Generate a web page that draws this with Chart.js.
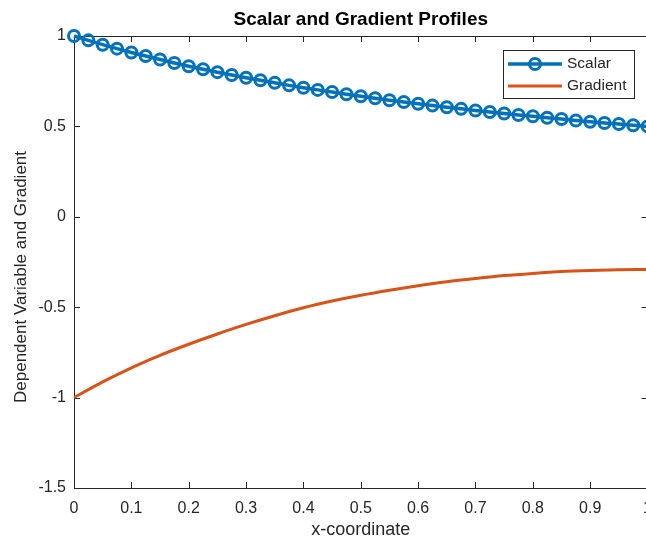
<!DOCTYPE html>
<html>
<head>
<meta charset="utf-8">
<title>Scalar and Gradient Profiles</title>
<script src="https://cdn.jsdelivr.net/npm/chart.js@4/dist/chart.umd.min.js"></script>
<style>
    html, body { margin: 0; padding: 0; background: #fff; }
    #wrap { width: 646px; height: 539px; overflow: hidden; position: relative; }
    #chart { display: block; }
</style>
</head>
<body>
<!-- canvas is a bit wider than the window: the right edge of the axes falls just outside, as in the original -->
<div id="wrap"><canvas id="chart" width="663" height="539"></canvas></div>
<script>
// x positions of the scalar samples (one marker per sample)
const scalarX = [0, 0.025, 0.05, 0.075, 0.1, 0.125, 0.15, 0.175, 0.2, 0.225,
    0.25, 0.275, 0.3, 0.325, 0.35, 0.375, 0.4, 0.425, 0.45, 0.475,
    0.5, 0.525, 0.55, 0.575, 0.6, 0.625, 0.65, 0.675, 0.7, 0.725,
    0.75, 0.775, 0.8, 0.825, 0.85, 0.875, 0.9, 0.925, 0.95, 0.975, 1];
const scalarY = [1.000, 0.976, 0.952, 0.930, 0.909, 0.889, 0.870, 0.851, 0.833, 0.816,
    0.800, 0.784, 0.769, 0.755, 0.741, 0.727, 0.714, 0.702, 0.690, 0.678,
    0.667, 0.656, 0.645, 0.635, 0.625, 0.615, 0.606, 0.597, 0.588, 0.580,
    0.571, 0.563, 0.556, 0.548, 0.541, 0.533, 0.526, 0.519, 0.513, 0.506, 0.500];

// gradient curve
const gradientX = [0, 0.05, 0.1, 0.15, 0.2, 0.25, 0.3, 0.35, 0.4, 0.45,
    0.5, 0.55, 0.6, 0.65, 0.7, 0.75, 0.8, 0.85, 0.9, 0.95, 1];
const gradientY = [-1.000, -0.913, -0.835, -0.766, -0.705, -0.648, -0.595, -0.547, -0.503, -0.466,
    -0.434, -0.406, -0.381, -0.359, -0.341, -0.325, -0.313, -0.303, -0.297, -0.293, -0.291];

// tick values and labels
const xTicks = [0, 0.1, 0.2, 0.3, 0.4, 0.5, 0.6, 0.7, 0.8, 0.9, 1];
const xTickLabels = ['0', '0.1', '0.2', '0.3', '0.4', '0.5', '0.6', '0.7', '0.8', '0.9', '1'];
const yTicks = [-1.5, -1, -0.5, 0, 0.5, 1];
const yTickLabels = ['-1.5', '-1', '-0.5', '0', '0.5', '1'];

const AXIS_COLOR = '#262626';
const FONT = '"Liberation Sans", Arial, Helvetica, sans-serif';

Chart.defaults.font.family = FONT;
Chart.defaults.color = AXIS_COLOR;

/**
 * Zip two arrays into {x, y} points
 */
function toPoints(xs, ys) {
    return xs.map((x, i) => ({ x: x, y: ys[i] }));
}

/**
 * Box around the plot area with inward ticks on all four sides
 */
const axesBox = {
    id: 'axesBox',
    beforeDatasetsDraw(chart) {
        const { ctx, chartArea: a, scales } = chart;
        const len = 6;
        ctx.save();
        ctx.strokeStyle = AXIS_COLOR;
        ctx.lineWidth = 1;
        ctx.beginPath();
        ctx.rect(a.left + 0.5, a.top + 0.5, a.right - a.left, a.bottom - a.top);
        scales.x.ticks.forEach(t => {
            const px = Math.round(scales.x.getPixelForValue(t.value)) + 0.5;
            ctx.moveTo(px, a.bottom);
            ctx.lineTo(px, a.bottom - len);
            ctx.moveTo(px, a.top);
            ctx.lineTo(px, a.top + len);
        });
        scales.y.ticks.forEach(t => {
            const py = Math.round(scales.y.getPixelForValue(t.value)) + 0.5;
            ctx.moveTo(a.left, py);
            ctx.lineTo(a.left + len, py);
            ctx.moveTo(a.right, py);
            ctx.lineTo(a.right - len, py);
        });
        ctx.stroke();
        ctx.restore();
    }
};

/**
 * Rotated y axis label (sits a little below the axis middle, as in the original)
 */
const yLabel = {
    id: 'yLabel',
    afterDraw(chart) {
        const { ctx } = chart;
        ctx.save();
        ctx.translate(21, 277);
        ctx.rotate(-Math.PI / 2);
        ctx.font = '17px ' + FONT;
        ctx.fillStyle = AXIS_COLOR;
        ctx.textAlign = 'center';
        ctx.textBaseline = 'middle';
        ctx.fillText('Dependent Variable and Gradient', 0, 0);
        ctx.restore();
    }
};

/**
 * Legend box in the upper right corner of the plot
 */
const boxLegend = {
    id: 'boxLegend',
    afterDraw(chart) {
        const { ctx } = chart;
        const left = 503, top = 50, width = 131, height = 48;
        ctx.save();
        ctx.fillStyle = '#fff';
        ctx.fillRect(left, top, width, height);
        ctx.strokeStyle = AXIS_COLOR;
        ctx.lineWidth = 1;
        ctx.strokeRect(left + 0.5, top + 0.5, width, height);

        ctx.font = '15.5px ' + FONT;
        ctx.textBaseline = 'middle';
        chart.data.datasets.forEach((ds, i) => {
            const y = top + 14 + i * 22;
            ctx.strokeStyle = ds.borderColor;
            ctx.lineWidth = ds.borderWidth;
            ctx.beginPath();
            ctx.moveTo(left + 5, y);
            ctx.lineTo(left + 59, y);
            ctx.stroke();
            if (ds.pointRadius > 0) {
                ctx.lineWidth = ds.pointBorderWidth;
                ctx.beginPath();
                ctx.arc(left + 32, y, ds.pointRadius, 0, Math.PI * 2);
                ctx.stroke();
            }
            ctx.fillStyle = AXIS_COLOR;
            ctx.fillText(ds.label, left + 64, y);
        });
        ctx.restore();
    }
};

const chart = new Chart(document.getElementById('chart'), {
    type: 'line',
    data: {
        datasets: [
            {
                label: 'Scalar',
                data: toPoints(scalarX, scalarY),
                borderColor: '#0072BD',
                borderWidth: 3.5,
                pointRadius: 5.5,
                pointBorderWidth: 3,
                pointBackgroundColor: 'rgba(0,0,0,0)',
                pointBorderColor: '#0072BD',
                tension: 0,
                clip: false
            },
            {
                label: 'Gradient',
                data: toPoints(gradientX, gradientY),
                borderColor: '#D95319',
                borderWidth: 3,
                pointRadius: 0,
                cubicInterpolationMode: 'monotone'
            }
        ]
    },
    options: {
        responsive: false,
        animation: false,
        devicePixelRatio: 1,
        layout: {
            autoPadding: false,
            padding: 0
        },
        plugins: {
            legend: { display: false },
            tooltip: { enabled: false },
            title: {
                display: true,
                text: 'Scalar and Gradient Profiles',
                fullSize: false,
                color: '#000',
                font: { size: 19, weight: 'bold', lineHeight: 1.2 },
                padding: { top: 8.5, bottom: 4.7 }
            }
        },
        scales: {
            x: {
                type: 'linear',
                min: 0,
                max: 1,
                grid: { display: false, drawTicks: false },
                border: { display: false },
                afterBuildTicks: scale => {
                    scale.ticks = xTicks.map(v => ({ value: v }));
                },
                afterFit: scale => { scale.height = 51; },
                ticks: {
                    padding: 11,
                    maxRotation: 0,
                    font: { size: 16 },
                    callback: (v, i) => xTickLabels[i]
                },
                title: {
                    display: true,
                    text: 'x-coordinate',
                    font: { size: 18, lineHeight: 1 },
                    padding: { top: 0, bottom: 0 }
                }
            },
            y: {
                type: 'linear',
                min: -1.5,
                max: 1,
                grid: { display: false, drawTicks: false },
                border: { display: false },
                afterBuildTicks: scale => {
                    scale.ticks = yTicks.map(v => ({ value: v }));
                },
                afterFit: scale => { scale.width = 74; },
                ticks: {
                    padding: 8,
                    font: { size: 16 },
                    callback: (v, i) => yTickLabels[i]
                }
            }
        }
    },
    plugins: [axesBox, yLabel, boxLegend]
});
</script>
</body>
</html>
